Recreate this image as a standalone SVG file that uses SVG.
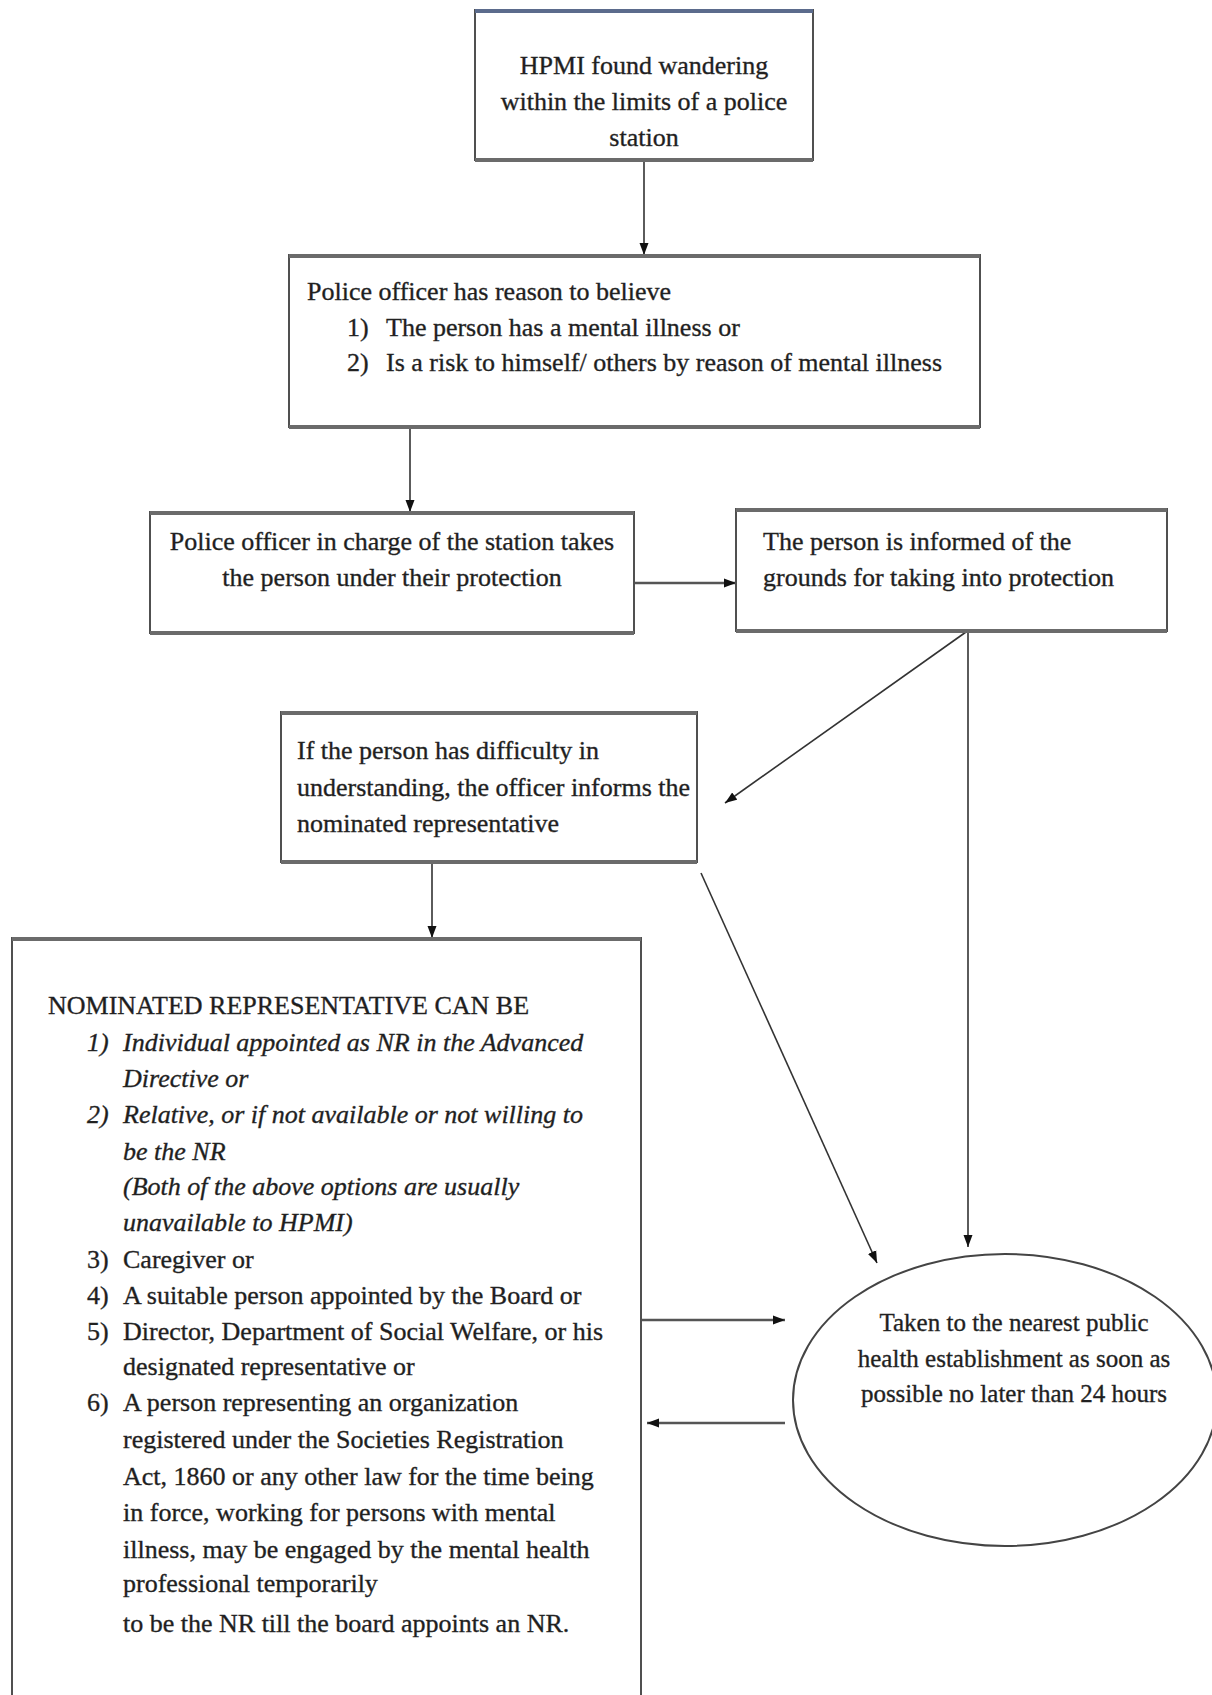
<svg xmlns="http://www.w3.org/2000/svg" width="1212" height="1695" viewBox="0 0 1212 1695">
<defs>
<style>
text{font-family:"Liberation Serif","Times New Roman",serif;font-size:26px;fill:#1e1e1e;stroke:#2a2a2a;stroke-width:0.35px;}
.it{font-style:italic;}
.c{text-anchor:middle;}
.box{fill:#fff;stroke:#505050;stroke-width:2;}
.edge{stroke:#6b6b6b;stroke-width:4;}
.con{fill:none;stroke:#333;stroke-width:1.6;marker-end:url(#ah);}
.conh{fill:none;stroke:#555;stroke-width:2.6;marker-end:url(#ah);}
</style>
<marker id="ah" viewBox="0 0 12 10" refX="12" refY="5" markerWidth="12" markerHeight="10" markerUnits="userSpaceOnUse" orient="auto">
<path d="M0,0.5 L12,5 L0,9.5 z" fill="#111"/>
</marker>
</defs>
<rect width="1212" height="1695" fill="#fff"/>

<g id="connectors">
<path class="con" d="M644,160 L644,255"/>
<path class="con" d="M410,427 L410,512"/>
<path class="conh" d="M634,583 L736,583"/>
<path class="con" d="M966,632 L725,803"/>
<path class="con" d="M968,632 L968,1247"/>
<path class="con" d="M432,863 L432,938"/>
<path class="con" d="M701,873 L877,1263"/>
<path class="conh" d="M632,1320 L785,1320"/>
<path class="conh" d="M785,1423 L647,1423"/>
</g>

<g id="n1">
<rect class="box" x="475" y="10" width="338" height="150"/>
<line x1="475" y1="11" x2="813" y2="11" stroke="#5b6b8c" stroke-width="4"/>
<line class="edge" x1="475" y1="160" x2="813" y2="160"/>
<text class="c" x="644" y="74">HPMI found wandering</text>
<text class="c" x="644" y="110">within the limits of a police</text>
<text class="c" x="644" y="146">station</text>
</g>

<g id="n2">
<rect class="box" x="289" y="255" width="691" height="172"/>
<line class="edge" x1="289" y1="256" x2="980" y2="256"/>
<line class="edge" x1="289" y1="427" x2="980" y2="427"/>
<text x="307" y="300">Police officer has reason to believe</text>
<text x="347" y="336">1)</text>
<text x="386" y="336">The person has a mental illness or</text>
<text x="347" y="371">2)</text>
<text x="386" y="371">Is a risk to himself/ others by reason of mental illness</text>
</g>

<g id="n3">
<rect class="box" x="150" y="512" width="484" height="121"/>
<line class="edge" x1="150" y1="513" x2="634" y2="513"/>
<line class="edge" x1="150" y1="633" x2="634" y2="633"/>
<text class="c" x="392" y="550">Police officer in charge of the station takes</text>
<text class="c" x="392" y="586">the person under their protection</text>
</g>

<g id="n4">
<rect class="box" x="736" y="509" width="431" height="122"/>
<line class="edge" x1="736" y1="510" x2="1167" y2="510"/>
<line class="edge" x1="736" y1="631" x2="1167" y2="631"/>
<text x="763" y="550">The person is informed of the</text>
<text x="763" y="586">grounds for taking into protection</text>
</g>

<g id="n5">
<rect class="box" x="281" y="712" width="416" height="150"/>
<line class="edge" x1="281" y1="713" x2="697" y2="713"/>
<line class="edge" x1="281" y1="862" x2="697" y2="862"/>
<text x="297" y="759">If the person has difficulty in</text>
<text x="297" y="796">understanding, the officer informs the</text>
<text x="297" y="832">nominated representative</text>
</g>

<g id="n6">
<rect class="box" x="12" y="938" width="629" height="800"/>
<line class="edge" x1="12" y1="939" x2="641" y2="939"/>
<text x="48" y="1014">NOMINATED REPRESENTATIVE CAN BE</text>
<text class="it" x="87" y="1051">1)</text>
<text class="it" x="123" y="1051">Individual appointed as NR in the Advanced</text>
<text class="it" x="123" y="1087">Directive or</text>
<text class="it" x="87" y="1123">2)</text>
<text class="it" x="123" y="1123">Relative, or if not available or not willing to</text>
<text class="it" x="123" y="1160">be the NR</text>
<text class="it" x="123" y="1195">(Both of the above options are usually</text>
<text class="it" x="123" y="1231">unavailable to HPMI)</text>
<text x="87" y="1268">3)</text>
<text x="123" y="1268">Caregiver or</text>
<text x="87" y="1304">4)</text>
<text x="123" y="1304">A suitable person appointed by the Board or</text>
<text x="87" y="1340">5)</text>
<text x="123" y="1340">Director, Department of Social Welfare, or his</text>
<text x="123" y="1375">designated representative or</text>
<text x="87" y="1411">6)</text>
<text x="123" y="1411">A person representing an organization</text>
<text x="123" y="1448">registered under the Societies Registration</text>
<text x="123" y="1485">Act, 1860 or any other law for the time being</text>
<text x="123" y="1521">in force, working for persons with mental</text>
<text x="123" y="1558">illness, may be engaged by the mental health</text>
<text x="123" y="1592">professional temporarily</text>
<text x="123" y="1632">to be the NR till the board appoints an NR.</text>
</g>

<g id="n7">
<ellipse cx="1005" cy="1400" rx="212" ry="146" fill="#fff" stroke="#444" stroke-width="2"/>
<text class="c" x="1014" y="1331" style="font-size:25px">Taken to the nearest public</text>
<text class="c" x="1014" y="1367" style="font-size:25px">health establishment as soon as</text>
<text class="c" x="1014" y="1402" style="font-size:25px">possible no later than 24 hours</text>
</g>
</svg>
